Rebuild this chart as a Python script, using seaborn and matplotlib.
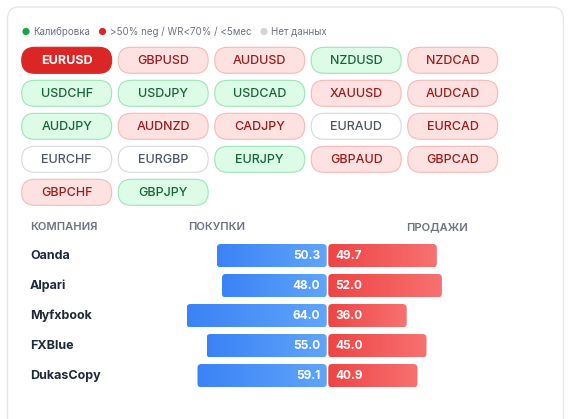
import numpy as np
import pandas as pd
import matplotlib.pyplot as plt
import seaborn as sns
from matplotlib.patches import FancyBboxPatch, Circle
from matplotlib.colors import LinearSegmentedColormap
from matplotlib import transforms

# данные
legend_labels = ['Калибровка', '>50% neg / WR<70% / <5мес', 'Нет данных']
legend_colors = ['#16a34a', '#dc2626', '#d1d5db']

pairs = ['EURUSD', 'GBPUSD', 'AUDUSD', 'NZDUSD', 'NZDCAD',
         'USDCHF', 'USDJPY', 'USDCAD', 'XAUUSD', 'AUDCAD',
         'AUDJPY', 'AUDNZD', 'CADJPY', 'EURAUD', 'EURCAD',
         'EURCHF', 'EURGBP', 'EURJPY', 'GBPAUD', 'GBPCAD',
         'GBPCHF', 'GBPJPY']
status = ['active', 'neg', 'neg', 'cal', 'neg',
          'cal', 'cal', 'cal', 'neg', 'neg',
          'cal', 'neg', 'neg', 'none', 'neg',
          'none', 'none', 'cal', 'neg', 'neg',
          'neg', 'cal']

headers = ['КОМПАНИЯ', 'ПОКУПКИ', 'ПРОДАЖИ']
companies = ['Oanda', 'Alpari', 'Myfxbook', 'FXBlue', 'DukasCopy']
buys = [50.3, 48.0, 64.0, 55.0, 59.1]
sells = [49.7, 52.0, 36.0, 45.0, 40.9]

sns.set_style('white')
plt.rcParams['font.family'] = ['Inter', 'DejaVu Sans']

W, H = 571, 419
fig = plt.figure(figsize=(W / 100, H / 100), dpi=100)

# фон в пикселях
bg = fig.add_axes([0, 0, 1, 1])
bg.set_xlim(0, W)
bg.set_ylim(H, 0)
bg.axis('off')

bg.add_patch(FancyBboxPatch((7.5, 7), 556, 460, boxstyle='round,pad=0,rounding_size=12',
                            fc='white', ec='#e5e7eb', lw=1))

# легенда
dot_x = [26, 102.5, 264]
for x, lab, c in zip(dot_x, legend_labels, legend_colors):
    bg.add_patch(Circle((x, 31.5), 3.6, color=c, lw=0))
    bg.text(x + 7, 31.5, lab, fontsize=7, color='#6b7280', va='center', ha='left')

# кнопки валютных пар
styles = {
    'active': ('#dc2626', '#dc2626', 'white', 'bold'),
    'neg': ('#fee2e2', '#f6b9b9', '#991b1b', 'medium'),
    'cal': ('#dcfce7', '#9fe4b8', '#166534', 'medium'),
    'none': ('white', '#d6d9de', '#4b5563', 'medium'),
}
for i, (p, s) in enumerate(zip(pairs, status)):
    col, row = i % 5, i // 5
    x0 = 21.7 + 96.5 * col
    yc = 60.3 + 33 * row
    fc, ec, tc, fw = styles[s]
    bg.add_patch(FancyBboxPatch((x0, yc - 13), 90, 26, boxstyle='round,pad=0,rounding_size=13',
                                fc=fc, ec=ec, lw=0.8))
    bg.text(x0 + 45, yc + 0.5, p, ha='center', va='center', fontsize=9, color=tc, fontweight=fw)

# заголовки таблицы
for x, h in zip([30, 188, 406], headers):
    bg.text(x, 227, h, fontsize=8, color='#6b7280', fontweight='semibold', va='center', ha='left')

# бары покупок / продаж
cx, k = 327.5, 2.2
row0, step = 255.7, 30
left_px, right_px = 150, 520
top_px = row0 - step / 2
ax = fig.add_axes([left_px / W, (H - (top_px + 5 * step)) / H, (right_px - left_px) / W, 5 * step / H])

df = pd.DataFrame({'company': companies, 'buy': buys, 'sell': sells})
df['buy_neg'] = -df['buy']
sns.barplot(data=df, y='company', x='buy_neg', orient='h', width=0.78, color='#3b82f6',
            errorbar=None, ax=ax)
sns.barplot(data=df, y='company', x='sell', orient='h', width=0.78, color='#ef4444',
            errorbar=None, ax=ax)

xlim = ((left_px - cx) / k, (right_px - cx) / k)
bars = list(ax.patches)
cmaps = [LinearSegmentedColormap.from_list('b', ['#3b82f6', '#60a5fa']),
         LinearSegmentedColormap.from_list('r', ['#ef4444', '#f87171'])]
gap = 0.35
grad = np.linspace(0, 1, 256)[None, :]
for j, p in enumerate(bars):
    bb = p.get_bbox()
    x0, x1 = sorted([bb.x0, bb.x1])
    y0, y1 = sorted([bb.y0, bb.y1])
    if j < len(companies):
        x1 -= gap
    else:
        x0 += gap
    p.set_visible(False)
    box = FancyBboxPatch((x0, y0), x1 - x0, y1 - y0,
                         boxstyle='round,pad=0,rounding_size=%f' % (4 / k),
                         mutation_aspect=k / step, fc='none', ec='none')
    ax.add_patch(box)
    im = ax.imshow(grad, extent=[x0, x1, y0, y1], cmap=cmaps[j // len(companies)],
                   aspect='auto', interpolation='bicubic', zorder=2)
    im.set_clip_path(box)

for i, (b, s) in enumerate(zip(buys, sells)):
    ax.text(-gap - 6.5 / k, i, f'{b:.1f}', ha='right', va='center', color='white',
            fontweight='bold', fontsize=8.5, zorder=3)
    ax.text(gap + 7 / k, i, f'{s:.1f}', ha='left', va='center', color='white',
            fontweight='bold', fontsize=8.5, zorder=3)

trans = transforms.blended_transform_factory(bg.transData, ax.transData)
for i, name in enumerate(companies):
    ax.text(30, i, name, transform=trans, ha='left', va='center', fontweight='bold',
            fontsize=9, color='#1f2937')

ax.set_xlim(*xlim)
ax.set_ylim(4.5, -0.5)
ax.axis('off')

fig.savefig('out.png', dpi=100)
